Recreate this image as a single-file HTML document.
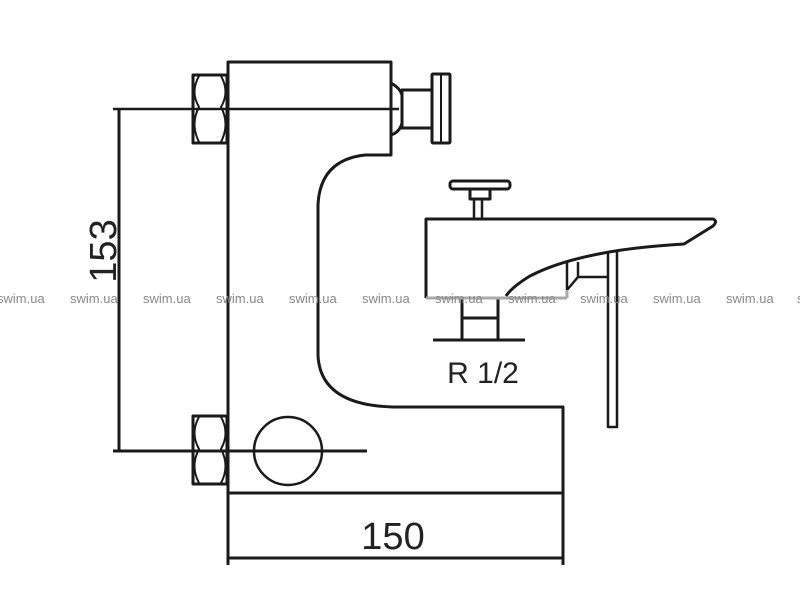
<!DOCTYPE html>
<html><head><style>body{margin:0;background:#fff}svg{display:block}</style></head>
<body>
<svg width="800" height="600" viewBox="0 0 800 600" xmlns="http://www.w3.org/2000/svg">
<g fill="none" stroke="#1a1a1a" stroke-width="3" stroke-linejoin="round">
<rect x="193" y="75" width="34" height="68"/>
<path d="M199 76 Q190 92 199 107 Q190 124 199 142 M221 76 Q230 92 221 107 Q230 124 221 142" stroke-width="2"/>
<rect x="193" y="416" width="34" height="68"/>
<path d="M199 417 Q190 433 199 449 Q190 466 199 483 M221 417 Q230 433 221 449 Q230 466 221 483" stroke-width="2"/>
<path d="M228 493 V62 H391 V155 H365 Q320 160 318 205 V355 Q320 405 393 407 H563 V565"/>
<line x1="228" y1="493" x2="563" y2="493"/>
<line x1="228" y1="493" x2="228" y2="565"/>
<line x1="228" y1="558" x2="563" y2="558"/>
<path d="M391 83 Q400 88 402 95 V123 Q400 132 391 135"/>
<rect x="402" y="90" width="30" height="38"/>
<rect x="432" y="74" width="18" height="69" rx="1"/>
<line x1="441" y1="75" x2="441" y2="142" stroke-width="2"/>
<line x1="113" y1="109" x2="399" y2="109" stroke-width="2.5"/>
<line x1="113" y1="451" x2="367" y2="451"/>
<line x1="119" y1="109" x2="119" y2="451"/>
<circle cx="288" cy="451" r="34" stroke-width="2.5"/>
<path d="M426 298 V219 H713 Q718 221 713 226 L684 244 Q580 250 530 276 Q512 287 506 296"/>
<rect x="450" y="181" width="60" height="8" rx="3"/>
<rect x="470" y="189" width="20" height="10"/>
<path d="M474 199 V219 M482 199 V219" stroke-width="2.5"/>
<path d="M567 262 V290 L578 277 V262 M578 277 H608" stroke-width="2.5"/>
<path d="M608 253 V427 H617 V251" stroke-width="2.5"/>
<path d="M462 298 V340 M498 298 V340 M462 318 H498 M433 340 H525"/>
</g>
<line x1="426" y1="298" x2="567" y2="298" stroke="#aaa" stroke-width="3"/>
<line x1="567" y1="290" x2="567" y2="298" stroke="#aaa" stroke-width="3"/>
<g font-family="Liberation Sans, sans-serif" fill="#222">
<text x="393" y="549" font-size="38" text-anchor="middle">150</text>
<text transform="translate(116,251) rotate(-90)" font-size="38" text-anchor="middle">153</text>
<text x="483" y="383" font-size="30" text-anchor="middle">R 1/2</text>
</g>
<g font-family="Liberation Sans, sans-serif" font-size="13" fill="#888">
<text x="-3" y="303">swim.ua</text><text x="70" y="303">swim.ua</text><text x="143" y="303">swim.ua</text><text x="216" y="303">swim.ua</text><text x="289" y="303">swim.ua</text><text x="362" y="303">swim.ua</text><text x="435" y="303">swim.ua</text><text x="508" y="303">swim.ua</text><text x="580" y="303">swim.ua</text><text x="653" y="303">swim.ua</text><text x="726" y="303">swim.ua</text><text x="797" y="303">swim.ua</text>
</g>
</svg>
</body></html>
